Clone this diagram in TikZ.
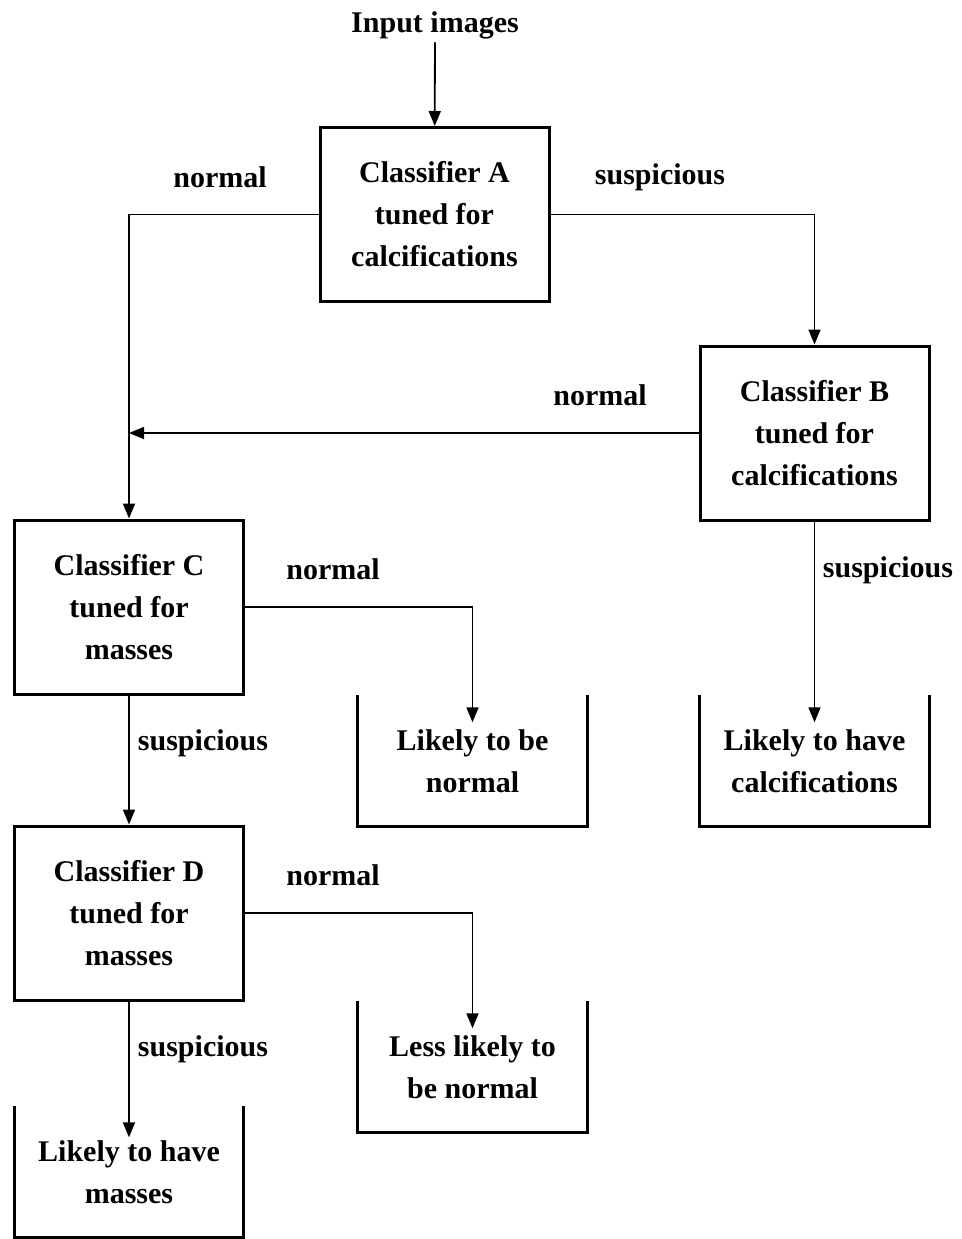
\documentclass[tikz,border=0pt]{standalone}
\usepackage{fontspec}
\setmainfont{Liberation Serif}
\usetikzlibrary{arrows.meta,positioning}

\begin{document}
\begin{tikzpicture}[x=1pt, y=-1pt,
                    every node/.style = {font=\bfseries\fontsize{30}{42}\selectfont, align=center},
                    clsbox/.style = {draw, line width=3pt, minimum width=229pt, minimum height=174pt},
                    bin/.style = {minimum width=229pt, minimum height=131pt},
                    flow/.style = {line width=1.8pt, -{Triangle[length=15pt,width=12pt]}}]
                    \useasboundingbox (0,0) rectangle (961,1239);
                    % classifiers
                    \node (in) at (435,25) {Input images};
                    \node[clsbox] (A) at (434.5,214.5) {Classifier A\\tuned for\\calcifications};
                    \node[clsbox] (B) at (814.5,433) {Classifier B\\tuned for\\calcifications};
                    \node[clsbox] (C) at (129,607) {Classifier C\\tuned for\\masses};
                    \node[clsbox] (D) at (129,913) {Classifier D\\tuned for\\masses};
                    % outcomes
                    \node[bin] (nrm) at (472.5,761) {Likely to be\\normal};
                    \node[bin] (cal) at (814.5,761) {Likely to have\\calcifications};
                    \node[bin] (lnrm) at (472.5,1067) {Less likely to\\be normal};
                    \node[bin] (mas) at (129,1172) {Likely to have\\masses};
                    \foreach \b in {nrm,cal,lnrm,mas}
                        \draw[line width=3pt] (\b.north west) |- (\b.south east) -- (\b.north east);
                    % labels
                    \node (nA) at (220,177) {normal};
                    \node (sA) at (660,177) {suspicious};
                    \node (nB) at (600,395) {normal};
                    \node (sB) at (888,570) {suspicious};
                    \node (nC) at (333,569) {normal};
                    \node (sC) at (203,743) {suspicious};
                    \node (nD) at (333,875) {normal};
                    \node (sD) at (203,1049) {suspicious};
                    % connectors
                    \draw[flow] (in) -- (A);
                    \draw[flow] (A.west) -| (C.north);
                    \draw[flow] (A.east) -| (B.north);
                    \draw[flow] (B.west) -- (B.west -| C.north);
                    \draw[flow] (B.south) -- ([yshift=-27pt]cal.north);
                    \draw[flow] (C.east) -| ([yshift=-27pt]nrm.north);
                    \draw[flow] (C.south) -- (D.north);
                    \draw[flow] (D.east) -| ([yshift=-27pt]lnrm.north);
                    \draw[flow] (D.south) -- ([yshift=-31pt]mas.north);
                \end{tikzpicture}
\end{document}
